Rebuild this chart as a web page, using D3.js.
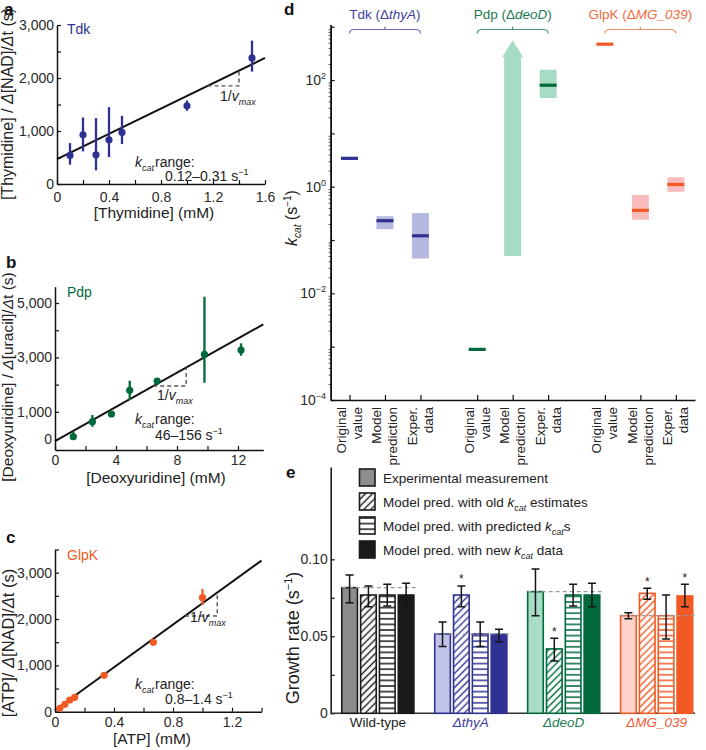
<!DOCTYPE html>
<html>
<head>
<meta charset="utf-8">
<script src="https://cdn.jsdelivr.net/npm/d3@7/dist/d3.min.js"></script>
<style>
html,body{margin:0;padding:0;background:#fff;}
svg{display:block;font-family:"Liberation Sans",Arial,Helvetica,sans-serif;}
</style>
</head>
<body>
<svg id="fig" width="706" height="750"></svg>
<script>
// ================= DATA =================
// Panel a – Tdk
const tdkConc  = [0.1, 0.2, 0.3, 0.4, 0.5, 1.0, 1.5];
const tdkRatio = [540, 929, 552, 835, 973, 1475, 2379];
const tdkLow   = [364, 615, 257, 508, 753, 1381, 2121];
const tdkHigh  = [772, 1255, 1243, 1450, 1287, 1575, 2705];
const tdkFit   = [470, 1193];          // intercept, slope
const tdkStep  = [1851, 1.4];          // 1/vmax step: y of horizontal, x of vertical
const tdkXTicks = [0, 0.2, 0.4, 0.6, 0.8, 1.0, 1.2, 1.4, 1.6];
const tdkXLabels = [0, 0.4, 0.8, 1.2, 1.6];
const tdkYTicks = [0, 500, 1000, 1500, 2000, 2500, 3000];
const tdkYLabels = [0, 1000, 2000, 3000];

// Panel b – Pdp
const pdpConc  = [1.2, 2.45, 3.7, 4.9, 6.7, 9.8, 12.2];
const pdpRatio = [85, 636, 919, 1790, 2132, 3113, 3272];
const pdpLow   = [-37, 452, 820, 1434, 2048, 2070, 3062];
const pdpHigh  = [268, 882, 1004, 2143, 2230, 5232, 3518];
const pdpFit   = [-74, 314];
const pdpStep  = [1949, 8.6];
const pdpXTicks = [0, 2, 4, 6, 8, 10, 12];
const pdpXLabels = [0, 4, 8, 12];
const pdpYTicks = [0, 1000, 2000, 3000, 4000, 5000];
const pdpYLabels = [0, 1000, 3000, 5000];

// Panel c – GlpK
const glpConc  = [0.033, 0.067, 0.1, 0.133, 0.333, 0.667, 1.0];
const glpRatio = [73, 160, 252, 311, 785, 1498, 2461];
const glpLow   = [45, 135, 225, 285, 765, 1475, 2303];
const glpHigh  = [100, 185, 280, 340, 805, 1520, 2648];
const glpFit   = [37, 2303];
const glpStep  = [2066, 1.1];
const glpXTicks = [0, 0.2, 0.4, 0.6, 0.8, 1.0, 1.2, 1.4];
const glpXLabels = [0, 0.4, 0.8, 1.2];
const glpYTicks = [0, 500, 1000, 1500, 2000, 2500, 3000, 3500];
const glpYLabels = [0, 1000, 2000, 3000];

// Panel d – kcat values (s^-1)
const dEnzymes = ["Tdk", "Pdp", "GlpK"];
const dGenes   = ["thyA", "deoD", "MG_039"];
const dCategories = [["Original", "value"], ["Model", "prediction"], ["Exper.", "data"]];
const dValue = [[3.4, 0.23, 0.12], [0.00089, null, 80], [470, 0.36, 1.1]];
const dLow   = [[null, 0.16, 0.045], [null, 0.05, 46], [null, 0.24, 0.8]];
const dHigh  = [[null, 0.28, 0.32], [null, 560, 156], [null, 0.7, 1.5]];
const dYLabelExp = [-4, -2, 0, 2];

// Panel e – growth rates (s^-1)
const eStrains = ["Wild-type", "ΔthyA", "ΔdeoD", "ΔMG_039"];
const eSeries  = ["exp", "old", "pred", "new"];
const eRate = [[0.0816, 0.0768, 0.0768, 0.0768],
               [0.0515, 0.0768, 0.0515, 0.0513],
               [0.0790, 0.0418, 0.0768, 0.0768],
               [0.0634, 0.0779, 0.0634, 0.0762]];
const eErrLow = [[0.0718, 0.0692, 0.0697, 0.0692],
                 [0.0433, 0.0692, 0.0433, 0.0465],
                 [0.0634, 0.0340, 0.0697, 0.0692],
                 [0.0614, 0.0740, 0.0482, 0.0692]];
const eErrHigh = [[0.0898, 0.0827, 0.0838, 0.0844],
                  [0.0593, 0.0827, 0.0593, 0.0545],
                  [0.0937, 0.0487, 0.0838, 0.0844],
                  [0.0653, 0.0812, 0.0768, 0.0838]];
const eStar = [[0, 0, 0, 0], [0, 1, 0, 0], [0, 1, 0, 0], [0, 1, 0, 1]];
const eYTicks = [0, 0.025, 0.05, 0.075, 0.1];
const eYLabels = [0, 0.05, 0.1];

// ================= STYLE =================
const colDark  = ["#2e3192", "#00693c", "#f15a24"];
const colLight = ["#b5b9df", "#a7dbc4", "#f8bcbd"];
const colHead  = ["#3d41a0", "#1c7a50", "#f26c40"];
const colBrace = ["#6a6eb8", "#4a9470", "#f6906a"];
const eDark  = ["#1a1a1a", "#2e3192", "#00693c", "#f15a24"];
const eLight = ["#8d8d8f", "#c0c3e7", "#a8dcc4", "#fcd3cd"];
const eText  = ["#222222", "#3a3da0", "#1b7d52", "#f15a3a"];

const svg = d3.select("#fig");
const defs = svg.append("defs");

function rich(text, parts) {
  parts.forEach(p => {
    const t = text.append("tspan").text(p.t);
    if (p.it) t.attr("font-style", "italic");
    if (p.fs) t.attr("font-size", p.fs);
    if (p.dy) t.attr("dy", p.dy);
    if (p.dx) t.attr("dx", p.dx);
  });
  return text;
}
function letter(x, y, l) {
  svg.append("text").attr("x", x).attr("y", y).attr("font-size", 17)
    .attr("font-weight", "bold").attr("fill", "#111").text(l);
}
function styleAxis(a) {
  a.attr("font-size", 14).attr("font-family", null);
  a.select(".domain").attr("stroke", "#111").attr("stroke-width", 1.5);
  a.selectAll(".tick line").attr("stroke", "#111").attr("stroke-width", 1.2);
  a.selectAll(".tick text").attr("fill", "#2a2a2a");
}

// ================= PANELS a–c =================
function kinPanel(o) {
  const g = svg.append("g");
  const x = d3.scaleLinear(o.xDom, o.xRange);
  const y = d3.scaleLinear(o.yDom, o.yRange);
  const ax = g.append("g").attr("transform", `translate(0,${o.yRange[0]})`)
    .call(d3.axisBottom(x).tickValues(o.xTicks).tickSizeInner(-4).tickSizeOuter(0).tickPadding(o.xPad)
      .tickFormat(d => o.xLabels.includes(d) ? String(d) : ""));
  const ay = g.append("g").attr("transform", `translate(${o.xRange[0]},0)`)
    .call(d3.axisLeft(y).tickValues(o.yTicks).tickSizeInner(-4).tickSizeOuter(0).tickPadding(3)
      .tickFormat(d => o.yLabels.includes(d) ? d3.format(",")(d) : ""));
  styleAxis(ax); styleAxis(ay);

  // fit line
  const [b, m] = o.fit;
  g.append("line")
    .attr("x1", x(o.xDom[0])).attr("y1", y(b + m * o.xDom[0]))
    .attr("x2", x(o.xDom[1])).attr("y2", y(b + m * o.xDom[1]))
    .attr("stroke", "#111").attr("stroke-width", 2);
  // 1/vmax step
  const [yh, xv] = o.step;
  const xs = (yh - b) / m;
  g.append("path")
    .attr("d", `M${x(xs)},${y(yh)}H${x(xv)}V${y(b + m * xv)}`)
    .attr("fill", "none").attr("stroke", "#555").attr("stroke-width", 1.4)
    .attr("stroke-dasharray", "4,3");
  // error bars and points
  g.selectAll(".eb").data(o.xs).join("line")
    .attr("x1", (d) => x(d)).attr("x2", d => x(d))
    .attr("y1", (d, i) => y(o.lo[i])).attr("y2", (d, i) => y(o.hi[i]))
    .attr("stroke", o.color).attr("stroke-width", 2.3);
  g.selectAll(".pt").data(o.xs).join("circle")
    .attr("cx", d => x(d)).attr("cy", (d, i) => y(o.ys[i])).attr("r", 3.6)
    .attr("fill", o.color);
  // name
  g.append("text").attr("x", o.namePos[0]).attr("y", o.namePos[1]).attr("font-size", 14)
    .attr("fill", o.color).text(o.name);
  // 1/vmax label
  rich(g.append("text").attr("x", o.vmaxPos[0]).attr("y", o.vmaxPos[1]).attr("font-size", 14).attr("fill", "#222"),
    [{ t: "1/" }, { t: "v", it: true }, { t: "max", it: true, fs: 9, dy: 4 }]);
  // kcat range
  rich(g.append("text").attr("x", o.kPos[0]).attr("y", o.kPos[1]).attr("font-size", 14).attr("fill", "#222"),
    [{ t: "k", it: true }, { t: "cat", it: true, fs: 9, dy: 4 }, { t: "range:", dy: -4, dx: 1 }]);
  rich(g.append("text").attr("x", o.kPos2[0]).attr("y", o.kPos2[1]).attr("font-size", 14).attr("fill", "#222"),
    [{ t: o.kRange + " s" }, { t: "−1", fs: 9, dy: -6 }]);
  // axis titles
  g.append("text").attr("x", o.xTitlePos[0]).attr("y", o.xTitlePos[1]).attr("font-size", 15.5)
    .attr("text-anchor", "middle").attr("fill", "#222").text(o.xTitle);
  rich(g.append("text").attr("transform", `translate(${o.yTitlePos[0]},${o.yTitlePos[1]}) rotate(-90)`)
    .attr("font-size", o.yTitleSize).attr("text-anchor", "middle").attr("fill", "#222"), o.yTitle);
}

kinPanel({
  xDom: [0, 1.6], xRange: [57, 265], yDom: [0, 3000], yRange: [184, 25], xPad: 8,
  xTicks: tdkXTicks, xLabels: tdkXLabels, yTicks: tdkYTicks, yLabels: tdkYLabels,
  xs: tdkConc, ys: tdkRatio, lo: tdkLow, hi: tdkHigh, fit: tdkFit, step: tdkStep,
  color: colDark[0], name: "Tdk", namePos: [67, 34],
  vmaxPos: [220, 101], kPos: [135, 167], kPos2: [165, 181], kRange: "0.12–0.31",
  xTitle: "[Thymidine] (mM)", xTitlePos: [154, 218],
  yTitle: [{ t: "[Thymidine] / " }, { t: "Δ", it: true }, { t: "[NAD]/" }, { t: "Δ", it: true }, { t: "t (s)" }],
  yTitlePos: [13, 104], yTitleSize: 16
});
kinPanel({
  xDom: [0, 13.66], xRange: [55, 263.3], yDom: [-400, 5600], yRange: [449.9, 286.7], xPad: 5.5,
  xTicks: pdpXTicks, xLabels: pdpXLabels, yTicks: pdpYTicks, yLabels: pdpYLabels,
  xs: pdpConc, ys: pdpRatio, lo: pdpLow, hi: pdpHigh, fit: pdpFit, step: pdpStep,
  color: colDark[1], name: "Pdp", namePos: [67, 297],
  vmaxPos: [157, 400], kPos: [135, 424], kPos2: [155, 440], kRange: "46–156",
  xTitle: "[Deoxyuridine] (mM)", xTitlePos: [156, 483],
  yTitle: [{ t: "[Deoxyuridine] / " }, { t: "Δ", it: true }, { t: "[uracil]/" }, { t: "Δ", it: true }, { t: "t (s)" }],
  yTitlePos: [13, 377], yTitleSize: 15.5
});
kinPanel({
  xDom: [0, 1.4], xRange: [55, 261.5], yDom: [0, 3500], yRange: [711.7, 549.5], xPad: 5,
  xTicks: glpXTicks, xLabels: glpXLabels, yTicks: glpYTicks, yLabels: glpYLabels,
  xs: glpConc, ys: glpRatio, lo: glpLow, hi: glpHigh, fit: glpFit, step: glpStep,
  color: colDark[2], name: "GlpK", namePos: [67, 560],
  vmaxPos: [190, 622], kPos: [135, 689], kPos2: [165, 704], kRange: "0.8–1.4",
  xTitle: "[ATP] (mM)", xTitlePos: [152, 744],
  yTitle: [{ t: "[ATP]/ " }, { t: "Δ", it: true }, { t: "[NAD]/" }, { t: "Δ", it: true }, { t: "t (s)" }],
  yTitlePos: [14, 643], yTitleSize: 16.5
});
letter(4, 15, "a");
letter(6, 268, "b");
letter(6, 543, "c");

// ================= PANEL d =================
(function () {
  const g = svg.append("g");
  const dx = d3.scaleLinear([0.47, 10.74], [330.7, 695]);
  const dy = d3.scaleLog([1e-4, 1100], [400, 24.5]);
  const pos = (gi, ci) => 1 + gi * 3.6 + ci;
  const allPos = [];
  dEnzymes.forEach((e, gi) => dCategories.forEach((c, ci) => allPos.push(pos(gi, ci))));

  const ticksAll = dy.ticks();
  const majors = ticksAll.filter(t => Math.abs(Math.log10(t) - Math.round(Math.log10(t))) < 1e-9);
  const minors = ticksAll.filter(t => !majors.includes(t));
  const ayMin = g.append("g").attr("transform", "translate(330.7,0)")
    .call(d3.axisLeft(dy).tickValues(minors).tickSizeInner(2).tickSizeOuter(0).tickFormat(""));
  const ay = g.append("g").attr("transform", "translate(330.7,0)")
    .call(d3.axisLeft(dy).tickValues(majors).tickSizeInner(-4).tickSizeOuter(0).tickFormat(""));
  styleAxis(ayMin); styleAxis(ay);
  ayMin.selectAll(".tick line").attr("stroke-width", 0.8);
  dYLabelExp.forEach(e => {
    rich(g.append("text").attr("x", 326).attr("y", dy(Math.pow(10, e)) + 5).attr("text-anchor", "end")
      .attr("font-size", 14).attr("fill", "#2a2a2a"),
      [{ t: "10" }, { t: e < 0 ? "−" + Math.abs(e) : String(e), fs: 9, dy: -6 }]);
  });
  const ax = g.append("g").attr("transform", "translate(0,400)")
    .call(d3.axisBottom(dx).tickValues(allPos).tickSizeInner(-5).tickSizeOuter(0).tickFormat(""));
  styleAxis(ax);

  // category labels
  dEnzymes.forEach((e, gi) => dCategories.forEach((c, ci) => {
    const px = dx(pos(gi, ci));
    const t = g.append("text").attr("transform", `translate(${px},407) rotate(-90)`)
      .attr("text-anchor", "end").attr("font-size", 13.5).attr("fill", "#222");
    t.append("tspan").attr("x", 0).attr("y", -3.5).text(c[0]);
    t.append("tspan").attr("x", 0).attr("y", 12.5).text(c[1]);
  }));

  // y title
  rich(g.append("text").attr("transform", "translate(297,218) rotate(-90)").attr("text-anchor", "middle")
    .attr("font-size", 16).attr("fill", "#222"),
    [{ t: "k", it: true }, { t: "cat", it: true, fs: 10, dy: 4 }, { t: " (s", dy: -4 }, { t: "−1", fs: 10, dy: -6 }, { t: ")", dy: 6 }]);

  // headers + braces
  dEnzymes.forEach((e, gi) => {
    const x0 = dx(pos(gi, 0)), x1 = dx(pos(gi, 2)), xm = dx(pos(gi, 1));
    rich(g.append("text").attr("x", xm).attr("y", 19).attr("text-anchor", "middle")
      .attr("font-size", 13.5).attr("fill", colHead[gi]),
      [{ t: e + " (Δ" }, { t: dGenes[gi], it: true }, { t: ")" }]);
    g.append("path")
      .attr("d", `M${x0},33.5Q${x0},29.5 ${x0 + 5},29.5H${x1 - 5}Q${x1},29.5 ${x1},33.5M${xm},29.5V26.5`)
      .attr("fill", "none").attr("stroke", colBrace[gi]).attr("stroke-width", 1.2);
  });

  // marks
  const w = 17;
  dEnzymes.forEach((e, gi) => dCategories.forEach((c, ci) => {
    const cx = dx(pos(gi, ci));
    const v = dValue[gi][ci], lo = dLow[gi][ci], hi = dHigh[gi][ci];
    if (v === null && lo !== null) {
      // open-ended prediction: arrow
      const yTip = dy(hi), yBase = dy(lo), head = 17, sw = 17, hw = 21;
      g.append("path")
        .attr("d", `M${cx - sw / 2},${yBase}V${yTip + head}H${cx - hw / 2}L${cx},${yTip}L${cx + hw / 2},${yTip + head}H${cx + sw / 2}V${yBase}Z`)
        .attr("fill", colLight[gi]);
      return;
    }
    if (lo !== null) {
      g.append("rect").attr("x", cx - w / 2).attr("width", w)
        .attr("y", dy(hi)).attr("height", dy(lo) - dy(hi)).attr("fill", colLight[gi]);
    }
    g.append("rect").attr("x", cx - w / 2).attr("width", w)
      .attr("y", dy(v) - 1.6).attr("height", 3.2).attr("fill", colDark[gi]);
  }));
})();
letter(284, 15, "d");

// ================= PANEL e =================
(function () {
  const g = svg.append("g");
  const x0 = d3.scaleBand(eStrains, [339, 695.5]).paddingInner(0.224).paddingOuter(0.03);
  const x1 = d3.scaleBand(eSeries, [0, x0.bandwidth()]).paddingInner(0.17);
  const y = d3.scaleLinear([0, 0.16], [713.3, 466.9]);

  // patterns
  function makePatterns(key, color) {
    const p1 = defs.append("pattern").attr("id", "diag-" + key).attr("patternUnits", "userSpaceOnUse")
      .attr("width", 5).attr("height", 5).attr("patternTransform", "rotate(45)");
    p1.append("rect").attr("width", 5).attr("height", 5).attr("fill", "#fff");
    p1.append("line").attr("x1", 2.5).attr("y1", 0).attr("x2", 2.5).attr("y2", 5)
      .attr("stroke", color).attr("stroke-width", 1.4);
    const p2 = defs.append("pattern").attr("id", "hor-" + key).attr("patternUnits", "userSpaceOnUse")
      .attr("width", 6).attr("height", 5.6);
    p2.append("rect").attr("width", 6).attr("height", 5.6).attr("fill", "#fff");
    p2.append("line").attr("x1", 0).attr("y1", 2.8).attr("x2", 6).attr("y2", 2.8)
      .attr("stroke", color).attr("stroke-width", 1.5);
  }
  eDark.forEach((c, i) => makePatterns(i, c));
  function fillFor(si, k) {
    if (k === 0) return eLight[si];
    if (k === 1) return `url(#diag-${si})`;
    if (k === 2) return `url(#hor-${si})`;
    return eDark[si];
  }

  // axes
  const ay = g.append("g").attr("transform", "translate(330.7,0)")
    .call(d3.axisLeft(y).tickValues(eYTicks).tickSizeInner(-4).tickSizeOuter(0).tickPadding(3)
      .tickFormat(d => eYLabels.includes(d) ? (d === 0 ? "0" : d3.format(".2f")(d)) : ""));
  styleAxis(ay);
  g.append("line").attr("x1", 330.7).attr("x2", 695).attr("y1", 713.3).attr("y2", 713.3)
    .attr("stroke", "#333").attr("stroke-width", 1.5);

  eStrains.forEach((s, si) => {
    const gx = x0(s);
    eSeries.forEach((k, ki) => {
      const bx = gx + x1(k), bw = x1.bandwidth();
      g.append("rect").attr("x", bx).attr("width", bw)
        .attr("y", y(eRate[si][ki])).attr("height", y(0) - y(eRate[si][ki]))
        .attr("fill", fillFor(si, ki)).attr("stroke", eDark[si]).attr("stroke-width", 1.6);
    });
    // reference dashed line at experimental value
    g.append("line").attr("x1", gx).attr("x2", gx + x0.bandwidth() + 2)
      .attr("y1", y(eRate[si][0])).attr("y2", y(eRate[si][0]))
      .attr("stroke", "#9a9a9a").attr("stroke-width", 1.2).attr("stroke-dasharray", "4,3");
    eSeries.forEach((k, ki) => {
      const cx = gx + x1(k) + x1.bandwidth() / 2;
      const yl = y(eErrLow[si][ki]), yh = y(eErrHigh[si][ki]);
      g.append("path").attr("d", `M${cx},${yl}V${yh}M${cx - 4},${yl}H${cx + 4}M${cx - 4},${yh}H${cx + 4}`)
        .attr("stroke", "#151515").attr("stroke-width", 1.5).attr("fill", "none");
      if (eStar[si][ki]) {
        g.append("text").attr("x", cx).attr("y", yh - 2.5).attr("text-anchor", "middle")
          .attr("font-size", 12).attr("fill", "#222").text("*");
      }
    });
    g.append("text").attr("x", gx + x0.bandwidth() / 2).attr("y", 727).attr("text-anchor", "middle")
      .attr("font-size", 13.5).attr("fill", eText[si]).attr("font-style", si === 0 ? "normal" : "italic")
      .text(s);
  });

  // legend
  const legend = [
    [{ t: "Experimental measurement" }],
    [{ t: "Model pred. with old " }, { t: "k", it: true }, { t: "cat", it: true, fs: 9, dy: 4 }, { t: " estimates", dy: -4 }],
    [{ t: "Model pred. with predicted " }, { t: "k", it: true }, { t: "cat", it: true, fs: 9, dy: 4 }, { t: "s", dy: -4 }],
    [{ t: "Model pred. with new " }, { t: "k", it: true }, { t: "cat", it: true, fs: 9, dy: 4 }, { t: " data", dy: -4 }]
  ];
  legend.forEach((parts, i) => {
    const yy = 469 + i * 24;
    g.append("rect").attr("x", 359.5).attr("y", yy).attr("width", 15.5).attr("height", 17)
      .attr("fill", fillFor(0, i)).attr("stroke", "#1a1a1a").attr("stroke-width", 1.6);
    rich(g.append("text").attr("x", 383).attr("y", yy + 13.5).attr("font-size", 13.5).attr("fill", "#222"), parts);
  });

  // y title
  rich(g.append("text").attr("transform", "translate(299,638) rotate(-90)").attr("text-anchor", "middle")
    .attr("font-size", 18).attr("fill", "#222"),
    [{ t: "Growth rate (s" }, { t: "−1", fs: 11, dy: -7 }, { t: ")", dy: 7 }]);
})();
letter(286, 478, "e");
</script>
</body>
</html>
